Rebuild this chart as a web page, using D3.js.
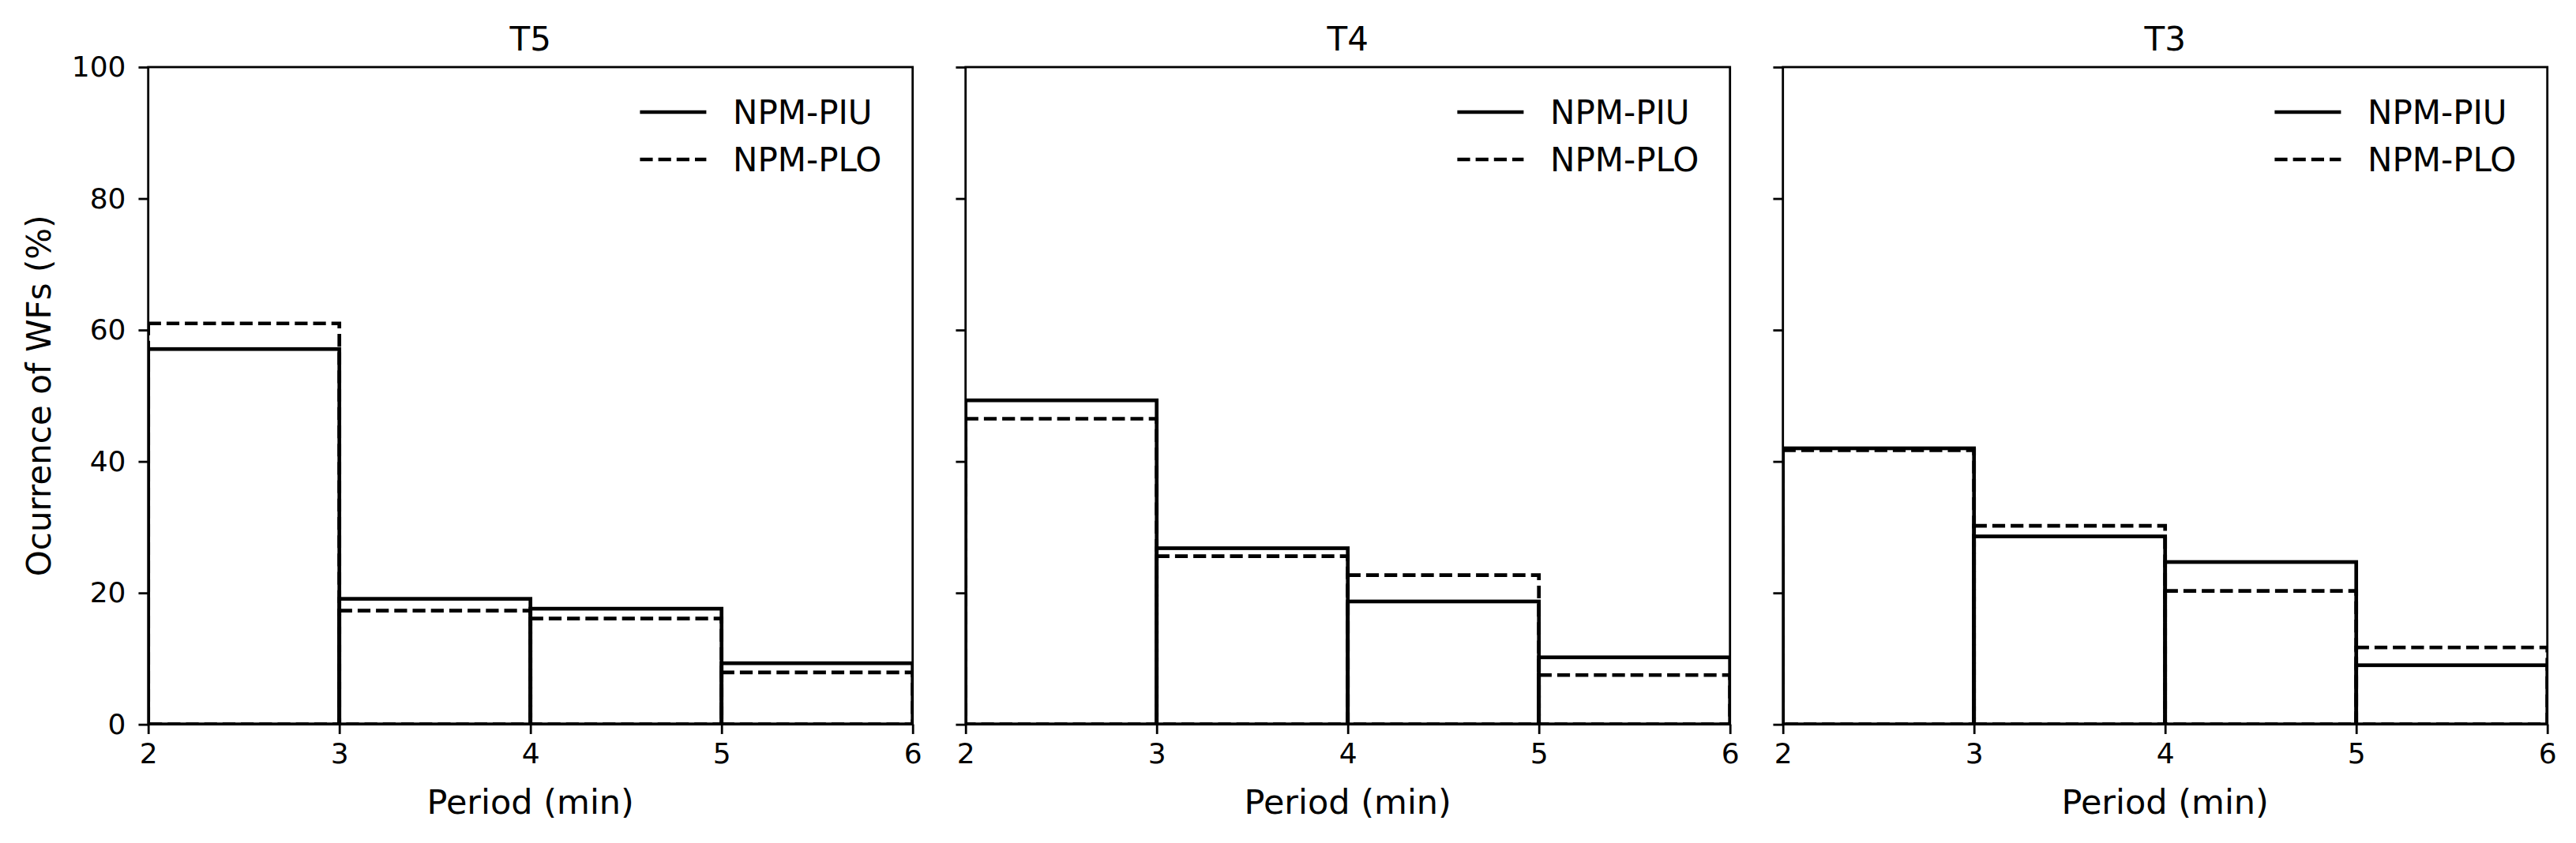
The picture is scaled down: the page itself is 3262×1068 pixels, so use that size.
<!DOCTYPE html>
<html>
<head>
<meta charset="utf-8">
<script src="https://cdn.jsdelivr.net/npm/d3@7"></script>
<style>
  body { margin: 0; background: #fff; }
  text { font-family: "DejaVu Sans", sans-serif; fill: #000; }
</style>
</head>
<body>
<div id="chart"></div>
<script>

const width = 3262,
  height = 1068,
  margin = { top: 85, bottom: 150.3, left: 187.7 },
  panelWidth = 968,
  panelGap = 67;

// bin edges (min)
const binEdges = [2, 3, 4, 5, 6];
const xTicks = [2, 3, 4, 5, 6];
const yTicks = [0, 20, 40, 60, 80, 100];

const panelNames = ["T5", "T4", "T3"];
const seriesNames = ["NPM-PIU", "NPM-PLO"];

// occurrence (%) per bin
const piuT5 = [57.1, 19.1, 17.6, 9.3];
const ploT5 = [61.0, 17.3, 16.1, 7.9];
const piuT4 = [49.3, 26.8, 18.7, 10.2];
const ploT4 = [46.5, 25.6, 22.7, 7.5];
const piuT3 = [42.0, 28.6, 24.7, 9.0];
const ploT3 = [41.7, 30.2, 20.3, 11.7];

const panelData = [
  { name: panelNames[0], piu: piuT5, plo: ploT5 },
  { name: panelNames[1], piu: piuT4, plo: ploT4 },
  { name: panelNames[2], piu: piuT3, plo: ploT3 }
];

const barWidth = 4.7;
const dash = "16.2,7";

const svg = d3.select("#chart")
  .append("svg")
  .attr("width", width)
  .attr("height", height);

const plotH = height - margin.top - margin.bottom;

const yScale = d3.scaleLinear()
  .domain([0, 100])
  .range([margin.top + plotH, margin.top]);

panelData.forEach((p, i) => {
  const left = margin.left + i * (panelWidth + panelGap);

  const xScale = d3.scaleLinear()
    .domain([2, 6])
    .range([left, left + panelWidth]);

  const g = svg.append("g").attr("class", "panel");

  const clipId = "clip" + i;
  svg.append("clipPath").attr("id", clipId)
    .append("rect")
    .attr("x", left).attr("y", margin.top)
    .attr("width", panelWidth).attr("height", plotH);

  // bars as outlined rectangles
  const bins = (vals) => vals.map((v, k) => ({ x0: binEdges[k], x1: binEdges[k + 1], v: v }));

  const barG = g.append("g").attr("clip-path", `url(#${clipId})`);

  barG.selectAll("rect.piu")
    .data(bins(p.piu))
    .join("rect")
    .attr("class", "piu")
    .attr("x", d => xScale(d.x0))
    .attr("width", d => xScale(d.x1) - xScale(d.x0))
    .attr("y", d => yScale(d.v))
    .attr("height", d => yScale(0) - yScale(d.v))
    .attr("fill", "none")
    .attr("stroke", "#000")
    .attr("stroke-width", barWidth);

  barG.selectAll("rect.plo")
    .data(bins(p.plo))
    .join("rect")
    .attr("class", "plo")
    .attr("x", d => xScale(d.x0))
    .attr("width", d => xScale(d.x1) - xScale(d.x0))
    .attr("y", d => yScale(d.v))
    .attr("height", d => yScale(0) - yScale(d.v))
    .attr("fill", "none")
    .attr("stroke", "#000")
    .attr("stroke-width", barWidth)
    .attr("stroke-dasharray", dash);

  // axes
  const xAxis = d3.axisBottom(xScale)
    .tickValues(xTicks)
    .tickFormat(d3.format("d"))
    .tickSize(12.25)
    .tickPadding(12);

  const yAxis = d3.axisLeft(yScale)
    .tickValues(yTicks)
    .tickSize(12.25)
    .tickPadding(16)
    .tickFormat(i === 0 ? d3.format("d") : "");

  const xg = g.append("g")
    .attr("transform", `translate(0, ${yScale(0)})`)
    .call(xAxis);
  const yg = g.append("g")
    .attr("transform", `translate(${left}, 0)`)
    .call(yAxis);

  [xg, yg].forEach(a => {
    a.select(".domain").remove();
    a.selectAll(".tick line").attr("stroke", "#000").attr("stroke-width", 2.8);
    a.selectAll(".tick text").style("font-size", "36px").attr("fill", "#000");
  });

  // frame
  g.append("rect")
    .attr("x", left).attr("y", margin.top)
    .attr("width", panelWidth).attr("height", plotH)
    .attr("fill", "none")
    .attr("stroke", "#000")
    .attr("stroke-width", 2.8);

  // title
  g.append("text")
    .attr("x", left + panelWidth / 2)
    .attr("y", 64)
    .attr("text-anchor", "middle")
    .style("font-size", "42px")
    .text(p.name);

  // x label
  g.append("text")
    .attr("x", left + panelWidth / 2)
    .attr("y", 1031)
    .attr("text-anchor", "middle")
    .style("font-size", "43px")
    .text("Period (min)");

  // legend
  const legend = g.append("g");
  seriesNames.forEach((s, k) => {
    const ly = 142 + k * 60;
    legend.append("line")
      .attr("x1", left + 622.7).attr("x2", left + 706.7)
      .attr("y1", ly).attr("y2", ly)
      .attr("stroke", "#000")
      .attr("stroke-width", barWidth)
      .attr("stroke-dasharray", k === 1 ? dash : null);
    legend.append("text")
      .attr("x", left + 740.3)
      .attr("y", ly)
      .attr("dy", "0.36em")
      .style("font-size", "42px")
      .text(s);
  });
});

// y label
svg.append("text")
  .attr("transform", `translate(64, ${margin.top + plotH / 2}) rotate(-90)`)
  .attr("text-anchor", "middle")
  .style("font-size", "42px")
  .text("Ocurrence of WFs (%)");

</script>
</body>
</html>
